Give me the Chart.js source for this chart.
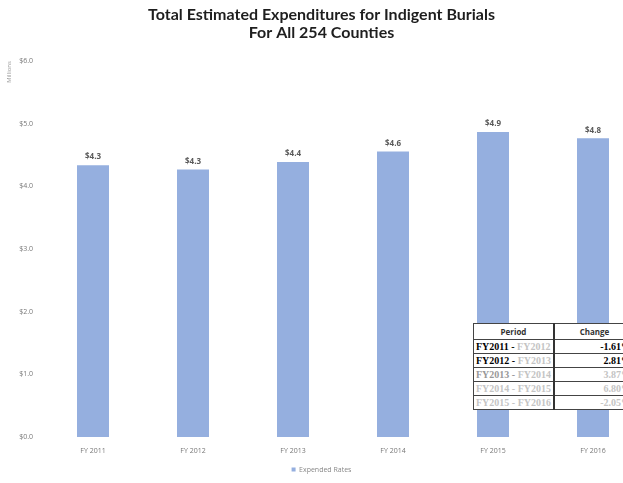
<!DOCTYPE html>
<html>
<head>
<meta charset="utf-8">
<script src="https://cdn.jsdelivr.net/npm/chart.js@4.4.1/dist/chart.umd.min.js"></script>
<style>
    html, body { margin: 0; padding: 0; background: #fff; }
    #wrap { position: relative; width: 623px; height: 483px; overflow: hidden; }
    #box { position: absolute; left: 0; top: 0; width: 646px; height: 483px; }
    #changeTable {
        position: absolute; left: 473px; top: 323px; width: 162px;
        border-collapse: collapse; background: #fff;
        font-family: 'Liberation Serif', serif; font-size: 10px; font-weight: bold;
    }
    #changeTable th, #changeTable td {
        border: 1px solid #444; height: 13px; padding: 0 2px; line-height: 12px; white-space: nowrap;
    }
    #changeTable th { font-family: 'Open Sans', sans-serif; font-size: 8px; height: 15px; color: #333; }
    #changeTable th:first-child, #changeTable td:first-child { width: 74px; border-right: 2px solid #333; }
    #changeTable td:last-child { text-align: right; padding-right: 3px; }
    #changeTable .dim { color: #c4c4c4; }
    #changeTable .mid { color: #999; }
</style>
</head>
<body>
<div id="wrap">
    <div id="box"><canvas id="burialChart"></canvas></div>
    <table id="changeTable">
        <thead><tr><th>Period</th><th>Change</th></tr></thead>
        <tbody id="changeRows"></tbody>
    </table>
</div>
<script>
const fiscalYears = ['FY 2011', 'FY 2012', 'FY 2013', 'FY 2014', 'FY 2015', 'FY 2016'];
const periodYears = ['FY2011', 'FY2012', 'FY2013', 'FY2014', 'FY2015', 'FY2016'];
// millions of dollars
const expenditures = [4.34, 4.27, 4.39, 4.56, 4.87, 4.77];
const yTicks = [0, 1, 2, 3, 4, 5, 6];

// year-over-year change table
const rowShade = [['', 'dim', ''], ['', 'dim', ''], ['mid', 'dim', 'dim'], ['dim', 'dim', 'dim'], ['dim', 'dim', 'dim']];
const tbody = document.getElementById('changeRows');
for (let i = 0; i < expenditures.length - 1; i++) {
    const pct = ((expenditures[i + 1] / expenditures[i]) - 1) * 100;
    const tr = document.createElement('tr');
    tr.innerHTML = '<td><span class="' + rowShade[i][0] + '">' + periodYears[i] + ' - </span>' +
        '<span class="' + rowShade[i][1] + '">' + periodYears[i + 1] + '</span></td>' +
        '<td class="' + rowShade[i][2] + '">' + pct.toFixed(2) + '%</td>';
    tbody.appendChild(tr);
}

// dollar labels above each bar
const barValueLabels = {
    id: 'barValueLabels',
    afterDatasetsDraw(chart) {
        const ctx = chart.ctx;
        const meta = chart.getDatasetMeta(0);
        ctx.save();
        ctx.font = 'bold 8px "Open Sans", sans-serif';
        ctx.fillStyle = '#5a5a5a';
        ctx.textAlign = 'center';
        ctx.textBaseline = 'bottom';
        meta.data.forEach(function(bar, i) {
            ctx.fillText('$' + expenditures[i].toFixed(1), bar.x, bar.y - 4);
        });
        ctx.restore();
    }
};

new Chart(document.getElementById('burialChart').getContext('2d'), {
    type: 'bar',
    data: {
        labels: fiscalYears,
        datasets: [{
            label: 'Expended Rates',
            data: expenditures,
            backgroundColor: '#95afdf',
            borderWidth: 0,
            categoryPercentage: 0.8,
            barPercentage: 0.4
        }]
    },
    options: {
        responsive: true,
        maintainAspectRatio: false,
        animation: false,
        layout: {
            padding: { left: 0, right: 3, top: 0, bottom: 0 }
        },
        plugins: {
            title: {
                display: true,
                text: ['Total Estimated Expenditures for Indigent Burials', 'For All 254 Counties'],
                color: '#1e1e1e',
                font: { family: 'Lato', size: 16, weight: 'bold', lineHeight: 1.1 },
                padding: { top: 6, bottom: 20 }
            },
            legend: {
                position: 'bottom',
                labels: {
                    boxWidth: 4,
                    boxHeight: 4,
                    color: '#888',
                    padding: 10,
                    font: { family: 'Open Sans', size: 7 }
                }
            },
            tooltip: { enabled: false }
        },
        scales: {
            x: {
                grid: { display: false, drawTicks: false },
                border: { display: false },
                ticks: {
                    color: '#777',
                    padding: 10,
                    maxRotation: 0,
                    font: { family: 'Open Sans', size: 7 }
                },
                afterFit: function(scale) { scale.height = 19; }
            },
            y: {
                min: 0,
                max: 6,
                grid: { display: false, drawTicks: false },
                border: { display: false },
                afterBuildTicks: function(scale) {
                    scale.ticks = yTicks.map(function(v) { return { value: v }; });
                },
                ticks: {
                    color: '#777',
                    padding: 10,
                    font: { family: 'Open Sans', size: 7 },
                    callback: function(value) { return '$' + value.toFixed(1); }
                },
                title: {
                    display: true,
                    text: 'Millions',
                    align: 'end',
                    color: '#999',
                    padding: { top: 6, bottom: 0 },
                    font: { family: 'Open Sans', size: 6 }
                },
                afterFit: function(scale) { scale.width = 43; }
            }
        }
    },
    plugins: [barValueLabels]
});
</script>
</body>
</html>
